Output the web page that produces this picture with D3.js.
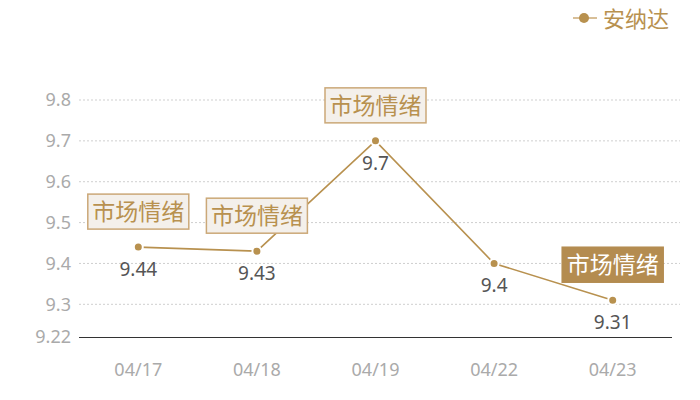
<!DOCTYPE html>
<html>
<head>
<meta charset="utf-8">
<title>安纳达</title>
<script src="https://d3js.org/d3.v7.min.js"></script>
<style>
  body { margin: 0; background: #fff; }
  text { font-family: "Noto Sans", "Noto Sans CJK SC", sans-serif; }
</style>
</head>
<body>
<svg id="chart"></svg>
<script>
const width = 700;
const height = 400;

// data
const dates = ['04/17', '04/18', '04/19', '04/22', '04/23'];
const values = [9.44, 9.43, 9.7, 9.4, 9.31];
const yTicks = [9.22, 9.3, 9.4, 9.5, 9.6, 9.7, 9.8];
const seriesName = '安纳达';
const markLabel = '市场情绪';
// which points carry a tag box, and whether it is filled (dark)
const tagged = [true, true, true, false, true];
const tagDark = [false, false, false, false, true];

const gold = '#b8914f';

const svg = d3.select('#chart')
  .attr('width', width)
  .attr('height', height);

const x = d3.scaleBand()
  .domain(dates)
  .range([79, 672]);

const y = d3.scaleLinear()
  .domain([9.22, 9.8])
  .range([337, 100]);

// dotted grid
svg.append('g')
  .selectAll('line')
  .data(yTicks.filter(d => d > 9.22))
  .join('line')
  .attr('x1', 79)
  .attr('x2', 680)
  .attr('y1', d => y(d))
  .attr('y2', d => y(d))
  .attr('stroke', '#cfcfcf')
  .attr('stroke-dasharray', '2,2');

// y axis labels
const yAxis = svg.append('g')
  .attr('transform', 'translate(71,0)')
  .call(d3.axisLeft(y).tickValues(yTicks).tickSize(0).tickPadding(0).tickFormat(d => d));
yAxis.select('.domain').remove();
yAxis.selectAll('text')
  .attr('fill', '#aaa')
  .style('font-size', '18px');

// x axis
const xAxis = svg.append('g')
  .attr('transform', 'translate(0,337)')
  .call(d3.axisBottom(x).tickSize(0).tickPadding(26));
xAxis.select('.domain').attr('stroke', '#333').attr('d', 'M79,0.5H672');
xAxis.selectAll('text')
  .attr('fill', '#aaa')
  .style('font-size', '18px');

const px = d => x(d) + x.bandwidth() / 2;

// line
svg.append('path')
  .datum(values)
  .attr('fill', 'none')
  .attr('stroke', gold)
  .attr('stroke-width', 1.6)
  .attr('d', d3.line().x((d, i) => px(dates[i])).y(d => y(d)));

// points
svg.append('g')
  .selectAll('circle')
  .data(values)
  .join('circle')
  .attr('cx', (d, i) => px(dates[i]))
  .attr('cy', d => y(d))
  .attr('r', 4.5)
  .attr('fill', gold)
  .attr('stroke', '#fff')
  .attr('stroke-width', 2);

// value labels
svg.append('g')
  .selectAll('text')
  .data(values)
  .join('text')
  .attr('x', (d, i) => px(dates[i]))
  .attr('y', d => y(d) + 29)
  .attr('text-anchor', 'middle')
  .attr('fill', '#555')
  .style('font-size', '19px')
  .text(d => d);

// tag boxes
const tags = svg.append('g')
  .selectAll('g')
  .data(values.map((v, i) => ({ v, i })).filter(d => tagged[d.i]))
  .join('g')
  .attr('transform', d => `translate(${px(dates[d.i])},${y(d.v) - 18})`);

tags.append('rect')
  .attr('x', -50.5)
  .attr('y', -35)
  .attr('width', 101)
  .attr('height', 35)
  .attr('fill', d => tagDark[d.i] ? '#b48c50' : '#f4f0eb')
  .attr('stroke', d => tagDark[d.i] ? '#b48c50' : '#cba878')
  .attr('stroke-width', 1.5);

tags.append('text')
  .attr('x', 0)
  .attr('y', -9)
  .attr('text-anchor', 'middle')
  .attr('fill', d => tagDark[d.i] ? '#fff' : gold)
  .style('font-family', '"Noto Sans CJK SC", sans-serif')
  .style('font-size', '23px')
  .text(markLabel);

// legend
const legend = svg.append('g').attr('transform', 'translate(573,18)');
legend.append('line')
  .attr('x1', 0).attr('x2', 24)
  .attr('stroke', '#d8bf98').attr('stroke-width', 2);
legend.append('circle')
  .attr('cx', 11).attr('r', 5)
  .attr('fill', gold);
legend.append('text')
  .attr('x', 30)
  .attr('y', 9)
  .attr('fill', gold)
  .style('font-family', '"Noto Sans CJK SC", sans-serif')
  .style('font-size', '22px')
  .text(seriesName);
</script>
</body>
</html>
